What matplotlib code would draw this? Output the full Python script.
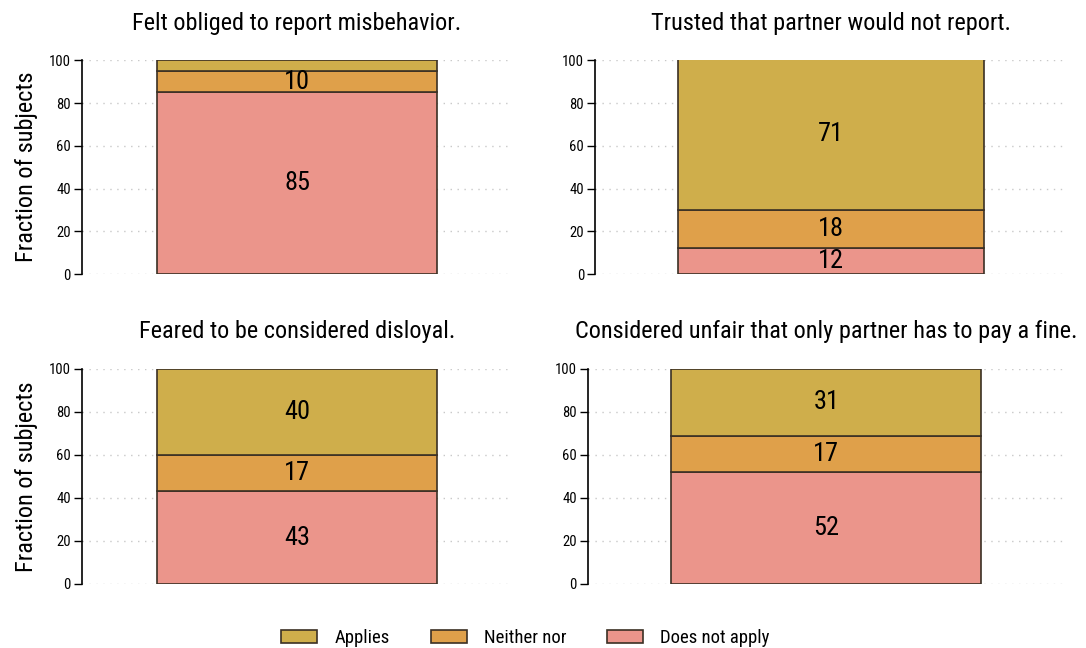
import numpy as np
import matplotlib.pyplot as plt
from matplotlib.patches import Patch

plt.rcParams['font.family'] = ['Roboto Condensed', 'DejaVu Sans']

titles = ['Felt obliged to report misbehavior.',
          'Trusted that partner would not report.',
          'Feared to be considered disloyal.',
          'Considered unfair that only partner has to pay a fine.']
categories = ['Does not apply', 'Neither nor', 'Applies']
does_not_apply = [85, 12, 43, 52]
neither_nor = [10, 18, 17, 17]
applies = [5, 71, 40, 31]

colors = {'Does not apply': '#eb958b', 'Neither nor': '#dfa04a', 'Applies': '#cfae4b'}
edge = '#3b3024'

fig = plt.figure(figsize=(10.86, 6.48), dpi=100)
boxes = [[0.0755, 0.577, 0.396, 0.330],
         [0.548, 0.577, 0.434, 0.330],
         [0.0755, 0.0988, 0.396, 0.332],
         [0.5414, 0.0988, 0.439, 0.332]]

series = [does_not_apply, neither_nor, applies]
for i, box in enumerate(boxes):
    ax = fig.add_axes(box)
    bottom = 0
    for name, vals in zip(categories, series):
        v = vals[i]
        ax.bar(0, v, width=0.65, bottom=bottom, color=colors[name],
               edgecolor=edge, linewidth=1.2, zorder=2)
        if v >= 8:
            ax.text(0, bottom + v / 2, str(v), ha='center', va='center',
                    fontsize=19, zorder=3)
        bottom += v
    ax.set_xlim(-0.5, 0.5)
    ax.set_ylim(0, 100)
    ax.set_yticks(range(0, 101, 20))
    ax.set_xticks([])
    ax.grid(axis='y', color='#c8c8c8', linestyle=(0, (1, 4)), linewidth=1, zorder=0)
    for s in ['top', 'right', 'bottom']:
        ax.spines[s].set_visible(False)
    ax.spines['left'].set_linewidth(1.2)
    ax.tick_params(axis='y', direction='out', length=6, width=1, labelsize=10.5, pad=2)
    ax.set_title(titles[i], fontsize=17.5, pad=22)
    if i % 2 == 0:
        ax.set_ylabel('Fraction of subjects', fontsize=17.5, labelpad=8)

handles = [Patch(facecolor=colors[c], edgecolor=edge, linewidth=1.2)
           for c in ['Applies', 'Neither nor', 'Does not apply']]
fig.legend(handles, ['Applies', 'Neither nor', 'Does not apply'], loc='lower center',
           bbox_to_anchor=(0.484, -0.024), ncol=3, frameon=False, fontsize=13.5,
           handlelength=1.92, handleheight=0.7, columnspacing=2.2, handletextpad=0.9)

fig.savefig('out.png', dpi=100)
